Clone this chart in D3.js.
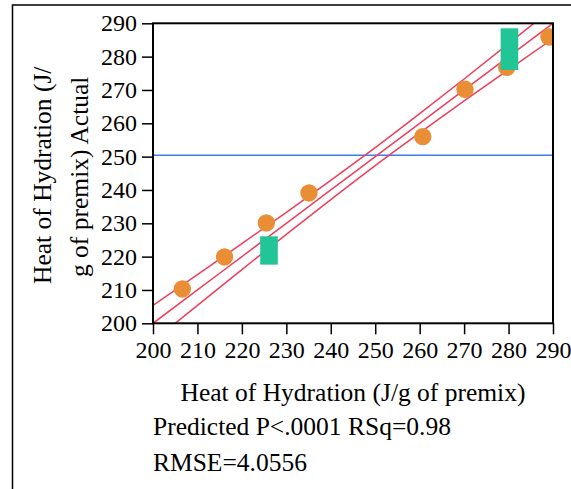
<!DOCTYPE html>
<html>
<head>
<meta charset="utf-8">
<script src="https://cdn.jsdelivr.net/npm/d3@7"></script>
<style>
  body { margin: 0; background: #fff; }
  svg text { font-family: "Liberation Serif", "Times New Roman", serif; fill: #000; }
</style>
</head>
<body>
<div id="vis"></div>
<script>
// Actual by predicted
const predicted = [206.6, 216.1, 225.5, 235.1, 260.7, 270.2, 279.6, 289.1];
const actual = [210.3, 219.9, 230.1, 239.1, 256.0, 270.2, 276.8, 285.9];

// green markers: predicted value and the span of actual values they cover
const greenPredicted = [226.1, 280.2];
const greenLow = [217.6, 276.0];
const greenHigh = [226.1, 288.5];

// fit line and confidence curves
const bandX = [200, 210, 220, 230, 240, 250, 260, 270, 280, 290];
const bandFit = [200, 210, 220, 230, 240, 250, 260, 270, 280, 290];
const bandUpper = [205.4, 214.6, 223.9, 233.3, 242.9, 252.7, 262.9, 273.3, 283.9, 294.6];
const bandLower = [194.6, 205.4, 216.1, 226.7, 237.1, 247.3, 257.1, 266.7, 276.1, 285.4];

const meanActual = 250.4;

const xTicks = [200, 210, 220, 230, 240, 250, 260, 270, 280, 290];
const yTicks = [200, 210, 220, 230, 240, 250, 260, 270, 280, 290];

const W = 571, H = 489;
const margin = {top: 23.3, left: 153};
const width = 400, height = 300;
const serif = '"Liberation Serif", "Times New Roman", serif';

const svg = d3.select('#vis')
    .append('svg')
    .attr('width', W)
    .attr('height', H);

// outer frame (runs off the right and bottom)
svg.append('rect')
    .attr('x', 12.5).attr('y', 5)
    .attr('width', 700).attr('height', 700)
    .attr('fill', 'none')
    .attr('stroke', '#000')
    .attr('stroke-width', 1.5);

const g = svg.append('g')
    .attr('transform', `translate(${margin.left},${margin.top})`);

const x = d3.scaleLinear().domain([200, 290]).range([0, width]);
const y = d3.scaleLinear().domain([200, 290]).range([height, 0]);

g.append('clipPath').attr('id', 'clip')
  .append('rect').attr('width', width).attr('height', height);

const plot = g.append('g').attr('clip-path', 'url(#clip)');

// mean line
plot.append('line')
    .attr('x1', 0).attr('x2', width)
    .attr('y1', y(meanActual)).attr('y2', y(meanActual))
    .attr('stroke', '#3d7ee6')
    .attr('stroke-width', 1.5);

const line = d3.line()
    .x(d => x(d[0]))
    .y(d => y(d[1]))
    .curve(d3.curveMonotoneX);

[bandUpper, bandFit, bandLower].forEach(arr => {
  plot.append('path')
      .datum(bandX.map((v, i) => [v, arr[i]]))
      .attr('d', line)
      .attr('fill', 'none')
      .attr('stroke', '#ee3e5c')
      .attr('stroke-width', 1.5);
});

plot.selectAll('circle.pt')
    .data(predicted.map((p, i) => ({p, a: actual[i]})))
    .enter()
    .append('circle')
    .attr('class', 'pt')
    .attr('cx', d => x(d.p))
    .attr('cy', d => y(d.a))
    .attr('r', 8.7)
    .attr('fill', '#ea8e35');

const sq = 17.6;
g.selectAll('rect.sq')
    .data(greenPredicted.map((p, i) => ({p, lo: greenLow[i], hi: greenHigh[i]})))
    .enter()
    .append('rect')
    .attr('class', 'sq')
    .attr('x', d => x(d.p) - sq / 2)
    .attr('y', d => y(d.hi))
    .attr('width', sq)
    .attr('height', d => y(d.lo) - y(d.hi))
    .attr('fill', '#22c595');

// frame
g.append('rect')
    .attr('width', width).attr('height', height)
    .attr('fill', 'none')
    .attr('stroke', '#000')
    .attr('stroke-width', 2);

const xAxis = d3.axisBottom(x).tickValues(xTicks).tickSize(11).tickPadding(7);
const yAxis = d3.axisLeft(y).tickValues(yTicks).tickSize(11).tickPadding(5);

const gx = g.append('g')
    .attr('transform', `translate(0,${height})`)
    .call(xAxis);
const gy = g.append('g').call(yAxis);

[gx, gy].forEach(a => {
  a.attr('font-family', serif).attr('font-size', 24);
  a.select('.domain').remove();
  a.selectAll('line').attr('stroke', '#000').attr('stroke-width', 1.5);
  a.selectAll('text')
      .style('font-family', serif)
      .style('font-size', '24px')
      .attr('fill', '#000');
});

g.append('text')
    .attr('x', width / 2)
    .attr('y', 378)
    .attr('text-anchor', 'middle')
    .style('font-size', '25.5px')
    .text('Heat of Hydration (J/g of premix)');

svg.append('text')
    .attr('x', 153).attr('y', 435)
    .style('font-size', '25.5px')
    .text('Predicted P<.0001 RSq=0.98');

svg.append('text')
    .attr('x', 153).attr('y', 471)
    .style('font-size', '25.5px')
    .text('RMSE=4.0556');

const yt = svg.append('text')
    .attr('transform', 'translate(51,284) rotate(-90)')
    .attr('text-anchor', 'start')
    .style('font-size', '25.5px');
yt.append('tspan').attr('x', 0).attr('y', 0).text('Heat of Hydration (J/');
yt.append('tspan').attr('x', 7).attr('y', 37).text('g of premix) Actual');
</script>
</body>
</html>
